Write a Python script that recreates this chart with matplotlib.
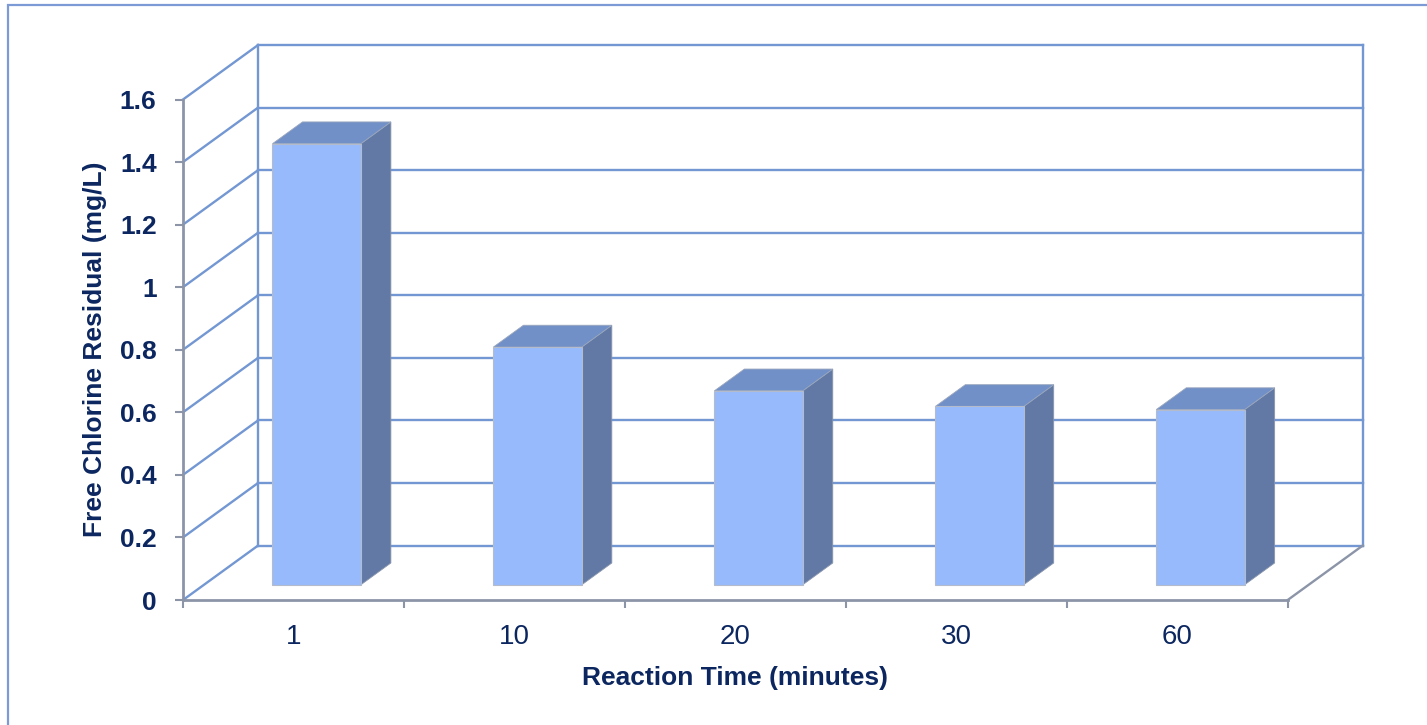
import matplotlib.pyplot as plt
from matplotlib.patches import Polygon, Rectangle

plt.rcParams['font.family'] = ['Liberation Sans', 'DejaVu Sans']

# reaction time categories and measured free chlorine residual
times = ['1', '10', '20', '30', '60']
chlorine = [1.41, 0.76, 0.62, 0.57, 0.56]
y_ticks = [0, 0.2, 0.4, 0.6, 0.8, 1.0, 1.2, 1.4, 1.6]
y_labels = ['0', '0.2', '0.4', '0.6', '0.8', '1', '1.2', '1.4', '1.6']

# oblique depth offset of the box (category units, value units)
DX, DY = 0.3395, 0.174
D0, D1 = 0.28, 0.68      # front / back depth of the bars
HALF = 0.2               # half bar width

grid_c = '#7397D2'
axis_c = '#8C95A8'
text_c = '#0C2760'
face_c = '#97BAFC'
side_c = '#6179A4'
top_c = '#7190C7'


def P(x, v, d):
    return (x + d * DX, v + d * DY)


fig = plt.figure(figsize=(14.27, 7.25), dpi=100)
fig.patches.append(Rectangle((8 / 1427, -0.1), 1.2, 1.1 - 5 / 725,
                             transform=fig.transFigure, fill=False,
                             edgecolor='#7C9BD6', lw=1.6))

ax = fig.add_axes([183 / 1427, 125 / 725, 1104.7 / 1427, 500.5 / 725])
n = len(times)
ax.set_xlim(0, n)
ax.set_ylim(0, 1.6)
ax.patch.set_visible(False)

top = y_ticks[-1]
# back wall
for v in y_ticks:
    (x0, y0), (x1, y1) = P(0, v, 1), P(n, v, 1)
    ax.plot([x0, x1], [y0, y1], color=grid_c, lw=1.7, clip_on=False, zorder=1)
for xe in (0, n):
    (x0, y0), (x1, y1) = P(xe, 0, 1), P(xe, top, 1)
    ax.plot([x0, x1], [y0, y1], color=grid_c, lw=1.7, clip_on=False, zorder=1)
# side wall lines
for v in y_ticks:
    (x0, y0), (x1, y1) = P(0, v, 0), P(0, v, 1)
    ax.plot([x0, x1], [y0, y1], color=grid_c, lw=1.7, clip_on=False, zorder=1)
# floor right edge
(x0, y0), (x1, y1) = P(n, 0, 0), P(n, 0, 1)
ax.plot([x0, x1], [y0, y1], color=axis_c, lw=1.7, clip_on=False, zorder=1)

# bars
for i, val in enumerate(chlorine):
    c = i + 0.51
    xl, xr = c - HALF, c + HALF
    front = [P(xl, 0, D0), P(xr, 0, D0), P(xr, val, D0), P(xl, val, D0)]
    side = [P(xr, 0, D0), P(xr, 0, D1), P(xr, val, D1), P(xr, val, D0)]
    cap = [P(xl, val, D0), P(xr, val, D0), P(xr, val, D1), P(xl, val, D1)]
    ax.add_patch(Polygon(side, closed=True, facecolor=side_c, edgecolor='#8a96ad',
                         lw=0.6, clip_on=False, zorder=3))
    ax.add_patch(Polygon(cap, closed=True, facecolor=top_c, edgecolor='#9aa6bd',
                         lw=0.6, clip_on=False, zorder=3))
    ax.add_patch(Polygon(front, closed=True, facecolor=face_c, edgecolor='#b4bccb',
                         lw=0.8, clip_on=False, zorder=4))

# front axes
for s in ('top', 'right'):
    ax.spines[s].set_visible(False)
for s in ('left', 'bottom'):
    ax.spines[s].set_color(axis_c)
    ax.spines[s].set_linewidth(2.0)
    ax.spines[s].set_zorder(5)

ax.set_yticks(y_ticks)
ax.set_yticklabels(y_labels, fontsize=19, fontweight='bold', color=text_c)
ax.set_xticks(range(n + 1))
ax.set_xticklabels([''] * (n + 1))
ax.set_xticks([i + 0.5 for i in range(n)], minor=True)
ax.set_xticklabels(times, minor=True, fontsize=20, color=text_c)
ax.tick_params(axis='both', which='major', direction='out', length=6,
               width=1.5, color=axis_c)
ax.tick_params(axis='y', pad=13)
ax.tick_params(axis='x', which='minor', length=0, pad=17)

ax.text(0.5, -0.156, 'Reaction Time (minutes)', transform=ax.transAxes,
        ha='center', va='center', fontsize=19, fontweight='bold', color=text_c)
ax.text(-0.0797, 0.5015, 'Free Chlorine Residual (mg/L)', transform=ax.transAxes,
        ha='center', va='center', rotation=90, fontsize=19, fontweight='bold',
        color=text_c)

fig.savefig('out.png', dpi=100)
